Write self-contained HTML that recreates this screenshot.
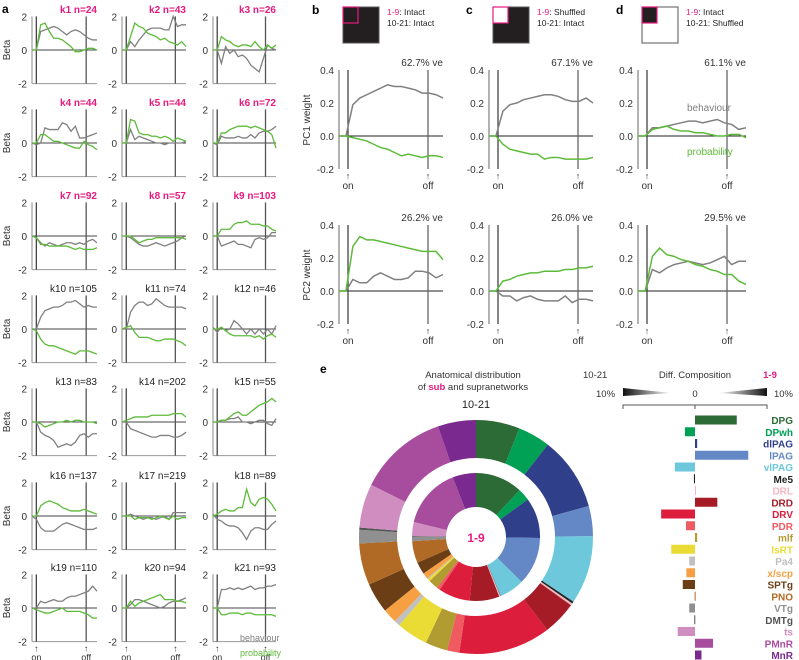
<!DOCTYPE html>
<html><head><meta charset="utf-8"><style>
body{margin:0;background:#fff;}
svg{display:block;font-family:"Liberation Sans",sans-serif;}
</style></head>
<body>
<svg id="fig" width="799" height="660" viewBox="0 0 799 660" xmlns="http://www.w3.org/2000/svg">
<g font-weight="bold" font-size="12">
<text x="2" y="13">a</text><text x="312" y="14">b</text><text x="466" y="14">c</text><text x="616" y="14">d</text><text x="320" y="373">e</text>
</g>
</svg>
<script>
const NS="http://www.w3.org/2000/svg";
const svg=document.getElementById('fig');
function mk(tag,attrs,parent,txt){const e=document.createElementNS(NS,tag);for(const k in attrs)e.setAttribute(k,attrs[k]);if(txt!==undefined)e.textContent=txt;(parent||svg).appendChild(e);return e;}
const GRAY="#808080",GREEN="#5dbb3a",PINK="#e6197f";

// ---------- Panel a data ----------
const clusterNames=["k1 n=24","k2 n=43","k3 n=26","k4 n=44","k5 n=44","k6 n=72","k7 n=92","k8 n=57","k9 n=103","k10 n=105","k11 n=74","k12 n=46","k13 n=83","k14 n=202","k15 n=55","k16 n=137","k17 n=219","k18 n=89","k19 n=110","k20 n=94","k21 n=93"];
const behaviourA=[
[0,0,1.1,1.2,1.3,1.4,1.3,1.1,0.9,1.1,1.2,1.1,0.9,0.7,0.6,0.6],
[0,0,0.5,0.2,0.6,0.9,1.2,1.3,1.3,1.3,1.2,1.2,2.0,1.4,1.5,1.5],
[0,0,-0.8,0.2,-0.2,0,-0.4,-0.3,-0.5,-0.9,-1.1,-1.3,-0.5,0.3,0.1,0],
[0,-0.1,0,0.9,0.8,0.8,0.8,1.2,1.1,0.7,1.0,0.3,0.3,0.4,0.5,0.6],
[0,0,0.8,0.2,0.4,0.3,0.2,0.1,0,0,-0.1,0,0,0,0,0.1],
[0,-0.1,0.4,0.3,0.3,0.3,0.4,0.3,0.3,0.5,0.3,0.6,0.7,0.7,0.8,1.0],
[0,-0.1,-0.4,-0.6,-0.4,-0.5,-0.6,-0.5,-0.4,-0.4,-0.5,-0.4,-0.5,-0.3,-0.2,-0.4],
[0,0,-0.1,-0.3,-0.5,-0.6,-0.6,-0.5,-0.4,-0.5,-0.6,-0.5,-0.4,-0.3,-0.1,0],
[0,0,-0.6,-0.5,-0.4,-0.3,-0.5,-0.5,-0.6,-0.7,-0.2,-0.1,-0.2,-0.1,0.2,0.2],
[0,0,0.7,1.1,1.2,1.3,1.3,1.4,1.6,1.6,1.7,1.5,1.3,1.4,1.3,1.3],
[0,0,1.0,1.4,1.6,1.6,1.4,1.5,1.8,1.6,1.4,1.3,1.3,1.3,1.3,1.2],
[0.1,-0.2,0.1,-0.1,0,0.5,0.3,0,-0.3,0,-0.3,0,-0.3,0,-0.3,0.2],
[0,0,-0.6,-0.8,-0.9,-1.1,-1.5,-1.4,-1.3,-1.4,-1.2,-0.8,-0.7,-0.9,-0.7,-0.7],
[0,0,-0.4,-0.5,-0.6,-0.7,-0.8,-0.9,-0.9,-0.8,-0.8,-0.8,-0.9,-0.9,-0.8,-0.6],
[0,0,0.1,0.1,0.2,0.2,0.3,0,0,-0.1,0,0.1,0.1,-0.1,-0.2,0.2],
[0,-0.2,-0.7,-0.9,-0.9,-0.9,-0.7,-0.5,-0.4,-0.5,-0.6,-0.7,-0.8,-0.8,-0.8,-0.7],
[0,0,0.1,0,-0.1,-0.2,-0.1,-0.1,-0.2,-0.1,0,-0.2,0.2,0.2,0.2,0.2],
[0.1,-0.2,-0.3,-0.5,-0.6,-0.6,-0.7,-1.0,-1.4,-0.9,-0.7,-0.7,-0.8,-0.8,-0.5,-0.3],
[0,0,0.4,0.3,0.4,0.5,0.4,0.4,0.6,0.7,0.7,0.8,0.9,1.0,1.3,1.0],
[0,0,0.2,0.5,0.5,0.4,0.3,0.2,0.1,0,0.1,0.3,0.4,0.4,0.5,0.6],
[0,0,1.1,1.1,1.2,1.1,1.2,1.1,1.2,1.3,1.1,1.2,1.2,1.3,1.3,1.4]];
const probabilityA=[
[0,0,1.5,1.6,1.1,0.7,0.7,0.6,0.4,0.2,-0.1,-0.1,0,0.1,0.1,0],
[0,0,0.8,1.6,1.4,1.3,1.0,0.9,0.8,0.6,0.7,0.5,0.4,0.3,0.5,0.2],
[0,0,0.8,0.6,0.5,0.3,0.2,0.3,0.3,0.2,0.5,0.2,0,0.3,0.1,0.3],
[0,0,0.5,0.5,0.3,0.1,0.1,0,-0.1,-0.2,-0.3,-0.3,0.1,-0.1,-0.2,-0.4],
[0,0,1.4,1.3,0.6,0.5,0.5,0.4,0.4,0.3,0.4,0.3,0.1,0.3,0.2,0.1],
[0,0,0.6,0.6,0.8,0.9,1.0,1.0,1.0,0.9,1.0,0.9,0.8,0.7,0.5,-0.3],
[0,-0.1,-0.5,-0.5,-0.6,-0.6,-0.6,-0.6,-0.6,-0.7,-0.8,-0.7,-0.8,-0.8,-0.8,-0.7],
[0,0,0,-0.2,-0.4,-0.3,-0.2,-0.2,-0.1,-0.1,-0.1,-0.1,-0.1,-0.1,-0.1,-0.2],
[0,0,0.4,0.4,0.4,0.7,0.8,0.8,0.9,0.7,0.7,0.7,0.6,0.6,0.4,0.3],
[0,-0.1,-0.6,-0.9,-1.0,-1.0,-1.1,-1.2,-1.3,-1.4,-1.5,-1.3,-1.3,-1.3,-1.4,-1.5],
[0,0.1,0.2,-0.2,-0.5,-0.5,-0.5,-0.6,-0.7,-0.7,-0.6,-0.6,-0.6,-0.7,-0.8,-1.0],
[0,0,0.1,-0.1,-0.3,-0.4,-0.4,-0.4,-0.4,-0.4,-0.5,-0.4,-0.6,-0.4,-0.3,-0.5],
[0,0,-0.1,-0.3,-0.2,-0.1,0,0,0.1,0,0.1,0.1,0,0,0,-0.1],
[0,0.1,0.2,0.3,0.3,0.3,0.3,0.4,0.4,0.4,0.4,0.4,0.5,0.5,0.5,0.3],
[0,0,0.1,0.1,0.3,0.5,0.6,0.4,0.4,0.6,0.8,1.0,1.1,1.2,1.4,1.2],
[0,0,0.6,0.8,0.9,0.8,0.7,0.5,0.4,0.3,0.3,0.3,0.4,0.3,0.2,0.1],
[0,0,0,-0.2,-0.1,-0.1,-0.1,-0.2,-0.1,0,-0.1,-0.2,0,-0.2,-0.1,-0.1],
[0,0.1,0.3,0.4,0.3,0.3,0.5,0.5,1.6,0.8,0.6,1.0,1.1,1.0,0.7,0.3],
[0,-0.1,-0.2,-0.3,-0.3,-0.2,-0.1,0,-0.2,-0.2,-0.2,-0.2,-0.3,-0.4,-0.6,-0.6],
[0,0,0.4,0.1,0.3,0.4,0.5,0.6,0.7,0.8,0.5,0.5,0.5,0.4,0.4,0.3],
[0,0,-0.4,-0.4,-0.3,-0.3,-0.3,-0.4,-0.3,-0.3,-0.4,-0.4,-0.4,-0.4,-0.4,-0.5]];
const betaTicks=[2,0,-2];

// ---------- Panels b-d data ----------
const pcTicks=[0.4,0.2,0.0,-0.2];
const pcVE=[["62.7% ve","26.2% ve"],["67.1% ve","26.0% ve"],["61.1% ve","29.5% ve"]];
const pc1Behaviour=[
[0,0,0.19,0.23,0.25,0.27,0.29,0.31,0.30,0.30,0.29,0.28,0.26,0.26,0.25,0.23],
[0,0,0.15,0.19,0.20,0.22,0.23,0.24,0.25,0.25,0.24,0.22,0.21,0.21,0.23,0.20],
[0,0,0.05,0.05,0.06,0.07,0.08,0.09,0.09,0.08,0.09,0.10,0.08,0.07,0.04,0.05]];
const pc1Probability=[
[0,0,-0.01,-0.02,-0.03,-0.05,-0.07,-0.08,-0.10,-0.12,-0.11,-0.12,-0.13,-0.12,-0.12,-0.13],
[0,0,-0.05,-0.08,-0.09,-0.10,-0.11,-0.11,-0.14,-0.13,-0.13,-0.14,-0.14,-0.14,-0.14,-0.13],
[0,0,0.04,0.05,0.06,0.04,0.03,0.03,0.02,0.02,0.01,0,0,0.01,0.01,-0.01]];
const pc2Behaviour=[
[0,0,0.07,0.05,0.05,0.09,0.11,0.09,0.07,0.07,0.08,0.12,0.12,0.11,0.08,0.10],
[0,0,-0.03,-0.03,-0.06,-0.04,-0.03,-0.05,-0.06,-0.06,-0.06,-0.03,-0.07,-0.05,-0.05,-0.06],
[0,0,0.13,0.11,0.14,0.16,0.17,0.18,0.17,0.16,0.17,0.19,0.21,0.16,0.18,0.18]];
const pc2Probability=[
[0,0,0.27,0.33,0.31,0.31,0.30,0.29,0.28,0.27,0.26,0.25,0.24,0.24,0.24,0.19],
[0,0,0.06,0.07,0.09,0.10,0.11,0.11,0.12,0.12,0.12,0.13,0.13,0.14,0.14,0.15],
[0,0,0.21,0.26,0.22,0.21,0.19,0.18,0.16,0.15,0.13,0.12,0.10,0.10,0.06,0.04]];
const conditionA=["Intact","Shuffled","Intact"];
const conditionB=["Intact","Intact","Shuffled"];

// ---------- Panel e data ----------
const regions=["DPG","DPwh","dlPAG","lPAG","vlPAG","Me5","DRL","DRD","DRV","PDR","mlf","lsRT","Pa4","x/scp","SPTg","PNO","VTg","DMTg","ts","PMnR","MnR"];
const regionColors=["#2c6a36","#00a155","#2f3f8a","#6388c5","#6dc8dc","#222222","#f4b7c0","#a51c27","#dc1d3c","#ef5b60","#b09c30","#ebdc35","#c0c0c0","#f6a043","#6b3e15","#b06a25","#909090","#555555","#d08dc0","#a84c9e","#7a2a8e"];
const outerShare=[6.1,4.5,10.3,4.2,9.5,0.3,0.3,4.7,12.8,1.7,3.1,4.4,0.8,2.0,4.2,5.8,1.9,0.3,6.1,12.5,5.3];
const innerShare=[11.9,3.1,10.2,12.1,6.3,0.1,0.3,7.5,8.0,0.8,2.5,0.6,0.3,1.5,3.1,5.5,1.1,0.2,3.5,15.3,5.9];
const diffComp=[5.8,-1.4,0.3,7.4,-2.8,-0.15,0.05,3.1,-4.7,-1.25,0.3,-3.3,-0.8,-1.2,-1.7,-0.05,-0.8,-0.1,-2.4,2.5,0.9];

// ---------- Draw panel a ----------
const colAxis=[32,122,213], colEnd=[97,186,276], rowZero=[50,143,236,329,422,516,608];
const unitA=16.8;
clusterNames.forEach((nm,i)=>{
  const r=Math.floor(i/3), c=i%3;
  const x0=colAxis[c], x1=colEnd[c], y0=rowZero[r];
  const g=mk('g',{});
  
  
  const sx=t=>x0+t*(x1-x0)/15, sy=v=>y0-v*unitA;
  const onX=sx(1), offX=sx(12.5);
  mk('line',{x1:x0,y1:sy(2),x2:x0,y2:sy(-2),stroke:'#888','stroke-width':1},g);
  mk('line',{x1:x0,y1:sy(-2),x2:x1,y2:sy(-2),stroke:'#999','stroke-width':1},g);
  mk('line',{x1:x0,y1:y0,x2:x1,y2:y0,stroke:'#444','stroke-width':1},g);
  mk('line',{x1:onX,y1:sy(2),x2:onX,y2:sy(-2),stroke:'#444','stroke-width':1.3},g);
  mk('line',{x1:offX,y1:sy(2),x2:offX,y2:sy(-2),stroke:'#555','stroke-width':1.3},g);
  betaTicks.forEach(v=>{const t=mk('text',{x:x0-5,y:sy(v)+4,'font-size':10,'text-anchor':'end',fill:'#333'},g,String(v));
     });
  if(c===0){const t=mk('text',{x:10,y:y0,'font-size':10,'text-anchor':'middle',transform:`rotate(-90 10 ${y0})`,fill:'#333'},g,'Beta');
     }
  const tt=mk('text',{x:x1,y:y0-37,'font-size':10,'text-anchor':'end',fill:i<9?PINK:'#222','font-weight':i<9?'bold':'normal'},g,nm);
   
  const pb=mk('polyline',{points:behaviourA[i].map((v,t)=>sx(t)+','+sy(v)).join(' '),fill:'none',stroke:GRAY,'stroke-width':1.3},g);
   
  const pp=mk('polyline',{points:probabilityA[i].map((v,t)=>sx(t)+','+sy(v)).join(' '),fill:'none',stroke:GREEN,'stroke-width':1.3},g);
   
  if(r===6){
    [[onX,'on'],[offX,'off']].forEach(([x,l])=>{
      mk('text',{x:x,y:sy(-2)+10,'font-size':9,'text-anchor':'middle',fill:'#333'},g,'↑');
      const t=mk('text',{x:x,y:sy(-2)+19,'font-size':9,'text-anchor':'middle',fill:'#333'},g,l);
       });
  }
});
{const t=mk('text',{x:240,y:641,'font-size':9,fill:GRAY},null,'behaviour');
 
const t2=mk('text',{x:240,y:656,'font-size':9,fill:GREEN},null,'probability');
 }

// ---------- Draw panels b-d ----------
const pAxis=[339,489,638], pEnd=[443,593,746], pZero=[136,291], unitP=165;
const pcSets=[[pc1Behaviour,pc1Probability],[pc2Behaviour,pc2Probability]];
for(let c=0;c<3;c++){
  const mx=pAxis[c]+4, my=7, ms=36;
  const mg=mk('g',{});
  
  
  const subFill=c===1?'#fff':'#231f20', restFill=c===2?'#fff':'#231f20';
  mk('rect',{x:mx,y:my,width:ms,height:ms,fill:restFill,stroke:'#555','stroke-width':1},mg);
  mk('rect',{x:mx,y:my,width:15,height:16,fill:subFill,stroke:PINK,'stroke-width':1.2},mg);
  const lt=mk('text',{x:mx+44,y:15,'font-size':8.5,fill:'#222'},mg);
   
  mk('tspan',{fill:PINK},lt,'1-9'); mk('tspan',{},lt,': '+conditionA[c]);
  mk('text',{x:mx+44,y:26,'font-size':8.5,fill:'#222'},mg,'10-21: '+conditionB[c]);
  for(let p=0;p<2;p++){
    const x0=pAxis[c], x1=pEnd[c], y0=pZero[p];
    const g=mk('g',{});
    
    
    const sx=t=>x0+t*(x1-x0)/15, sy=v=>y0-v*unitP;
    const onX=x0+9, offX=x0+89;
    mk('line',{x1:x0,y1:sy(0.4),x2:x0,y2:sy(-0.2),stroke:'#666'},g);
    mk('line',{x1:x0,y1:y0,x2:x1,y2:y0,stroke:'#222'},g);
    mk('line',{x1:onX,y1:sy(0.4),x2:onX,y2:sy(-0.2),stroke:'#444','stroke-width':1.3},g);
    mk('line',{x1:offX,y1:sy(0.4),x2:offX,y2:sy(-0.2),stroke:'#666','stroke-width':1.3},g);
    pcTicks.forEach(v=>{const t=mk('text',{x:x0-5,y:sy(v)+4,'font-size':10,'text-anchor':'end',fill:'#333'},g,v.toFixed(1));
       });
    const ve=mk('text',{x:x1,y:y0-70,'font-size':10,'text-anchor':'end',fill:'#333'},g,pcVE[c][p]);
     
    if(c===0){const t=mk('text',{x:310,y:y0-16,'font-size':10,'text-anchor':'middle',transform:`rotate(-90 310 ${y0-16})`,fill:'#333'},g,'PC'+(p+1)+' weight');
       }
    const pb=mk('polyline',{points:pcSets[p][0][c].map((v,t)=>sx(t)+','+sy(v)).join(' '),fill:'none',stroke:GRAY,'stroke-width':1.5},g);
     
    const pp=mk('polyline',{points:pcSets[p][1][c].map((v,t)=>sx(t)+','+sy(v)).join(' '),fill:'none',stroke:GREEN,'stroke-width':1.5},g);
     
    [[onX,'on'],[offX,'off']].forEach(([x,l])=>{
      mk('text',{x:x,y:sy(-0.2)+10,'font-size':9,'text-anchor':'middle',fill:'#333'},g,'↑');
      const t=mk('text',{x:x,y:sy(-0.2)+20,'font-size':10,'text-anchor':'middle',fill:'#333'},g,l);
       });
  }
}
{const t=mk('text',{x:687,y:111,'font-size':10,fill:GRAY},null,'behaviour');
 
const t2=mk('text',{x:687,y:155,'font-size':10,fill:GREEN},null,'probability');
 }

// ---------- Panel e donut ----------
const cx=476, cy=537;
function ring(shares,r0,r1,name){
  const tot=shares.reduce((a,b)=>a+b,0); let a=0;
  shares.forEach((s,i)=>{
    const a0=a/tot*2*Math.PI, a1=(a+s)/tot*2*Math.PI; a+=s;
    const P=(r,t)=>[cx+r*Math.sin(t),cy-r*Math.cos(t)];
    const big=(a1-a0)>Math.PI?1:0;
    const [x0,y0]=P(r1,a0),[x1,y1]=P(r1,a1),[x2,y2]=P(r0,a1),[x3,y3]=P(r0,a0);
    const p=mk('path',{d:`M${x0},${y0}A${r1},${r1} 0 ${big} 1 ${x1},${y1}L${x2},${y2}A${r0},${r0} 0 ${big} 0 ${x3},${y3}Z`,fill:regionColors[i]});
    
    
  });
}
ring(outerShare,79,117,'outer-slice');
ring(innerShare,30,64,'inner-slice');
{const t=mk('text',{x:cx,y:cy+5,'font-size':12,'font-weight':'bold','text-anchor':'middle',fill:PINK},null,'1-9');
 
const t2=mk('text',{x:cx,y:408,'font-size':11,'text-anchor':'middle',fill:'#222'},null,'10-21');
 
const t3=mk('text',{x:473,y:378,'font-size':9.5,'text-anchor':'middle',fill:'#333'},null,'Anatomical distribution');
 
const t4=mk('text',{x:473,y:390,'font-size':9.5,'text-anchor':'middle',fill:'#333'},null);
 
mk('tspan',{},t4,'of '); mk('tspan',{fill:PINK,'font-weight':'bold'},t4,'sub'); mk('tspan',{},t4,' and supranetworks');}

// ---------- Panel e bars ----------
const zeroX=695, pxPerPct=7.2, barY0=420, barStep=11.75;
{
const hdr=[[583,378,'10-21','#333','start','normal'],[695,378,'Diff. Composition','#333','middle','normal'],[770,378,'1-9',PINK,'middle','bold'],[596,397,'10%','#333','start','normal'],[695,397,'0','#333','middle','normal'],[793,397,'10%','#333','end','normal']];
hdr.forEach(h=>{const t=mk('text',{x:h[0],y:h[1],'font-size':9.5,fill:h[3],'text-anchor':h[4],'font-weight':h[5]},null,h[2]);
   });
const defs=mk('defs',{});
const gl=mk('linearGradient',{id:'gl',x1:0,x2:1},defs); mk('stop',{offset:0,'stop-color':'#111'},gl); mk('stop',{offset:1,'stop-color':'#fff'},gl);
const gr=mk('linearGradient',{id:'gr',x1:0,x2:1},defs); mk('stop',{offset:0,'stop-color':'#fff'},gr); mk('stop',{offset:1,'stop-color':'#111'},gr);
const w1=mk('polygon',{points:'623,388 672,393 623,396',fill:'url(#gl)'});
 
const w2=mk('polygon',{points:'718,393 767,388 767,396',fill:'url(#gr)'});
 
const ax=mk('path',{d:'M623,409V405H767V409M695,405V409',fill:'none',stroke:'#555'});
 
}
diffComp.forEach((v,i)=>{
  const y=barY0+i*barStep;
  const x=v>=0?zeroX:zeroX+v*pxPerPct, w=Math.max(Math.abs(v)*pxPerPct,1);
  const b=mk('rect',{x:x,y:y-4.5,width:w,height:9,fill:regionColors[i]});
  
  
  const t=mk('text',{x:793,y:y+4,'font-size':10,'font-weight':'bold','text-anchor':'end',fill:regionColors[i]},null,regions[i]);
   
});
</script>
</body></html>
